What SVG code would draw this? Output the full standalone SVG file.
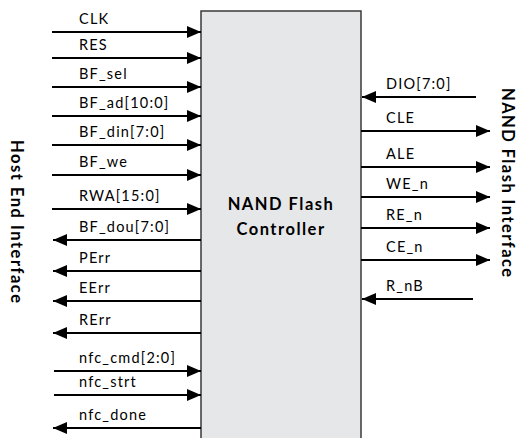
<svg xmlns="http://www.w3.org/2000/svg" width="517" height="438" viewBox="0 0 517 438">
<style>
.sig{font-family:Lato,"Liberation Sans",sans-serif;font-size:14.5px;letter-spacing:1.2px;fill:#000}
.ttl{font-family:Lato,"Liberation Sans",sans-serif;font-size:16.5px;font-weight:bold;fill:#000}
.w{stroke:#000;stroke-width:2;fill:none;marker-end:url(#ah)}
</style>
<defs>
<marker id="ah" markerUnits="userSpaceOnUse" markerWidth="14" markerHeight="14" viewBox="0 0 14 14" refX="14" refY="7" orient="auto">
<path d="M0,1 L14,7 L0,13 Z" fill="#000"/>
</marker>
</defs>
<rect width="517" height="438" fill="#fff"/>
<g id="controller">
<rect x="201" y="11" width="160" height="440" fill="#e6e7e8" stroke="#3a3a3a" stroke-width="1.5"/>
<text class="ttl" x="281" y="210" text-anchor="middle" font-size="17" letter-spacing="1.5">NAND Flash</text>
<text class="ttl" x="281" y="235" text-anchor="middle" font-size="17" letter-spacing="1.5">Controller</text>
</g>
<g id="host-label">
<text class="ttl" x="140" y="-11" transform="rotate(90)" textLength="163" lengthAdjust="spacing">Host End Interface</text>
</g>
<g id="nand-label">
<text class="ttl" x="88" y="-502" transform="rotate(90)" textLength="189" lengthAdjust="spacing">NAND Flash Interface</text>
</g>
<g id="connectors">
<line class="w" x1="52" y1="32" x2="201" y2="32"/>
<line class="w" x1="52" y1="58" x2="201" y2="58"/>
<line class="w" x1="52" y1="87" x2="201" y2="87"/>
<line class="w" x1="52" y1="116" x2="201" y2="116"/>
<line class="w" x1="52" y1="145" x2="201" y2="145"/>
<line class="w" x1="52" y1="175" x2="201" y2="175"/>
<line class="w" x1="52" y1="209" x2="201" y2="209"/>
<line class="w" x1="201" y1="240" x2="53" y2="240"/>
<line class="w" x1="201" y1="271" x2="53" y2="271"/>
<line class="w" x1="201" y1="301" x2="53" y2="301"/>
<line class="w" x1="201" y1="333" x2="53" y2="333"/>
<line class="w" x1="54" y1="371" x2="201" y2="371"/>
<line class="w" x1="54" y1="395" x2="201" y2="395"/>
<line class="w" x1="201" y1="428" x2="53" y2="428"/>
<line class="w" x1="476" y1="97" x2="362" y2="97"/>
<line class="w" x1="361" y1="131" x2="490" y2="131"/>
<line class="w" x1="361" y1="167" x2="490" y2="167"/>
<line class="w" x1="361" y1="197" x2="490" y2="197"/>
<line class="w" x1="361" y1="228" x2="490" y2="228"/>
<line class="w" x1="361" y1="260" x2="490" y2="260"/>
<line class="w" x1="473" y1="299" x2="362" y2="299"/>
</g>
<g id="labels">
<text class="sig" x="79" y="24">CLK</text>
<text class="sig" x="79" y="50">RES</text>
<text class="sig" x="79" y="79">BF_sel</text>
<text class="sig" x="79" y="108">BF_ad[10:0]</text>
<text class="sig" x="79" y="137">BF_din[7:0]</text>
<text class="sig" x="79" y="167">BF_we</text>
<text class="sig" x="79" y="201">RWA[15:0]</text>
<text class="sig" x="79" y="232">BF_dou[7:0]</text>
<text class="sig" x="79" y="263">PErr</text>
<text class="sig" x="79" y="293">EErr</text>
<text class="sig" x="79" y="325">RErr</text>
<text class="sig" x="79" y="363">nfc_cmd[2:0]</text>
<text class="sig" x="79" y="387">nfc_strt</text>
<text class="sig" x="79" y="420">nfc_done</text>
<text class="sig" x="386" y="89">DIO[7:0]</text>
<text class="sig" x="386" y="123">CLE</text>
<text class="sig" x="386" y="159">ALE</text>
<text class="sig" x="386" y="189">WE_n</text>
<text class="sig" x="386" y="220">RE_n</text>
<text class="sig" x="386" y="252">CE_n</text>
<text class="sig" x="386" y="291">R_nB</text>
</g>
</svg>
